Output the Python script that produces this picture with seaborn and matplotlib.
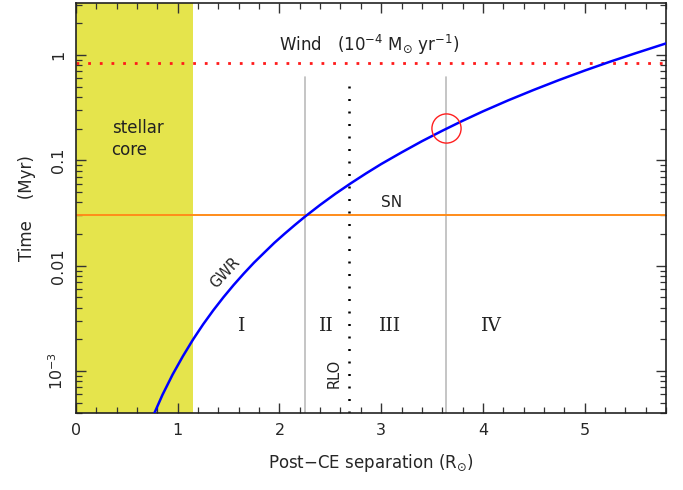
import matplotlib
matplotlib.use("Agg")
import matplotlib.pyplot as plt
import seaborn as sns
import numpy as np
import pandas as pd
from matplotlib.ticker import FixedLocator, MultipleLocator, LogLocator, NullFormatter

# --- data ---
sep = [0.75, 0.85, 0.95, 1.05, 1.15, 1.25, 1.35, 1.45, 1.55, 1.65, 1.75, 1.85,
       1.95, 2.05, 2.15, 2.25, 2.4, 2.55, 2.7, 2.85, 3.0, 3.2, 3.4, 3.6, 3.8,
       4.0, 4.25, 4.5, 4.75, 5.0, 5.25, 5.5, 5.8]
gwr_time = [3.60e-4, 5.95e-4, 9.28e-4, 1.38e-3, 1.99e-3, 2.78e-3, 3.78e-3,
            5.03e-3, 6.57e-3, 8.44e-3, 0.0107, 0.0133, 0.0165, 0.0201, 0.0243,
            0.0292, 0.0378, 0.0482, 0.0605, 0.0751, 0.0923, 0.119, 0.152, 0.191,
            0.2375, 0.292, 0.372, 0.467, 0.580, 0.712, 0.865, 1.04, 1.29]
wind_time = 0.84
sn_time = 0.030
core_edge = 1.15
region_bounds = [2.25, 3.64]
rlo_sep = 2.685
marked_point = (3.64, 0.205)
region_labels = ["I", "II", "III", "IV"]
region_label_x = [1.63, 2.46, 3.09, 4.08]
xtick_vals = [0, 1, 2, 3, 4, 5]
ytick_vals = [1e-3, 0.01, 0.1, 1]
ytick_labels = [r"$10^{-3}$", "0.01", "0.1", "1"]

sns.set_style("ticks")
plt.rcParams['font.family'] = ['DejaVu Sans']
plt.rcParams['mathtext.fontset'] = 'dejavusans'

fig = plt.figure(figsize=(6.83, 4.90), dpi=100)
ax = fig.add_axes([76/683, 1 - 413/490, (666-76)/683, (413-3)/490])

ax.set_yscale("log")
ax.set_xlim(0, 5.8)
ax.set_ylim(4.0e-4, 3.12)

# stellar core shading
ax.axvspan(0, core_edge, color="#e5e44c", lw=0, zorder=0)

# wind line
ax.axhline(wind_time, color="#ff1a1a", lw=2, ls=(0, (1, 3.2)), zorder=2)
# SN line
ax.axhline(sn_time, color="#ff8c1a", lw=1.4, zorder=2)
# region boundaries (gray)
for xb in region_bounds:
    ax.plot([xb, xb], [4.0e-4, 0.62], color="#bbbbbb", lw=1.2, zorder=1)
# RLO dotted
ax.plot([rlo_sep, rlo_sep], [4.0e-4, 0.58], color="black", lw=1.8,
        ls=(0, (0.8, 4.2)), zorder=2)

# GWR curve
df = pd.DataFrame({"sep": sep, "t": gwr_time})
sns.lineplot(data=df, x="sep", y="t", ax=ax, color="#0000ff", lw=1.8, zorder=3)

# circle marker around point
ax.plot([marked_point[0]], [marked_point[1]], marker="o", ms=21, mfc="none",
        mec="#ff2020", mew=1.0, zorder=4)

# texts
ax.text(2.0, 1.26, r"Wind   (10$^{-4}$ M$_{\odot}$ yr$^{-1}$)", fontsize=12,
        ha="left", va="center", color="#222222")
ax.text(3.1, 0.04, "SN", fontsize=11, ha="center", va="center", color="#222222")
ax.text(1.47, 0.0085, "GWR", fontsize=10.5, rotation=47, ha="center", va="center",
        color="#222222")
ax.text(2.54, 9.5e-4, "RLO", fontsize=10.5, rotation=90, ha="center", va="center",
        color="#222222")
ax.text(0.35, 0.16, "stellar\ncore", fontsize=12, ha="left", va="center",
        color="#222222", linespacing=1.3)
for lab, xl in zip(region_labels, region_label_x):
    ax.text(xl, 0.0027, lab, fontsize=13.5, family="DejaVu Serif", ha="center",
            va="center", color="#222222")

# ticks
ax.xaxis.set_major_locator(FixedLocator(xtick_vals))
ax.xaxis.set_minor_locator(MultipleLocator(0.2))
ax.set_xticklabels([str(v) for v in xtick_vals])
ax.yaxis.set_major_locator(FixedLocator(ytick_vals))
ax.yaxis.set_minor_locator(LogLocator(base=10, subs=np.arange(2, 10)))
ax.yaxis.set_minor_formatter(NullFormatter())
ax.set_yticklabels(ytick_labels, rotation=90, va="center")
ax.tick_params(which="both", direction="in", top=True, right=True, color="#333333")
ax.tick_params(which="major", length=7, width=1.0, labelsize=11.5, pad=7)
ax.tick_params(which="minor", length=4, width=0.9)
for s in ax.spines.values():
    s.set_linewidth(1.2)
    s.set_color("#222222")

ax.set_xlabel(r"Post$-$CE separation (R$_{\odot}$)", fontsize=12, labelpad=10)
ax.set_ylabel("Time    (Myr)", fontsize=12, labelpad=8)

fig.savefig("out.png", dpi=100)
